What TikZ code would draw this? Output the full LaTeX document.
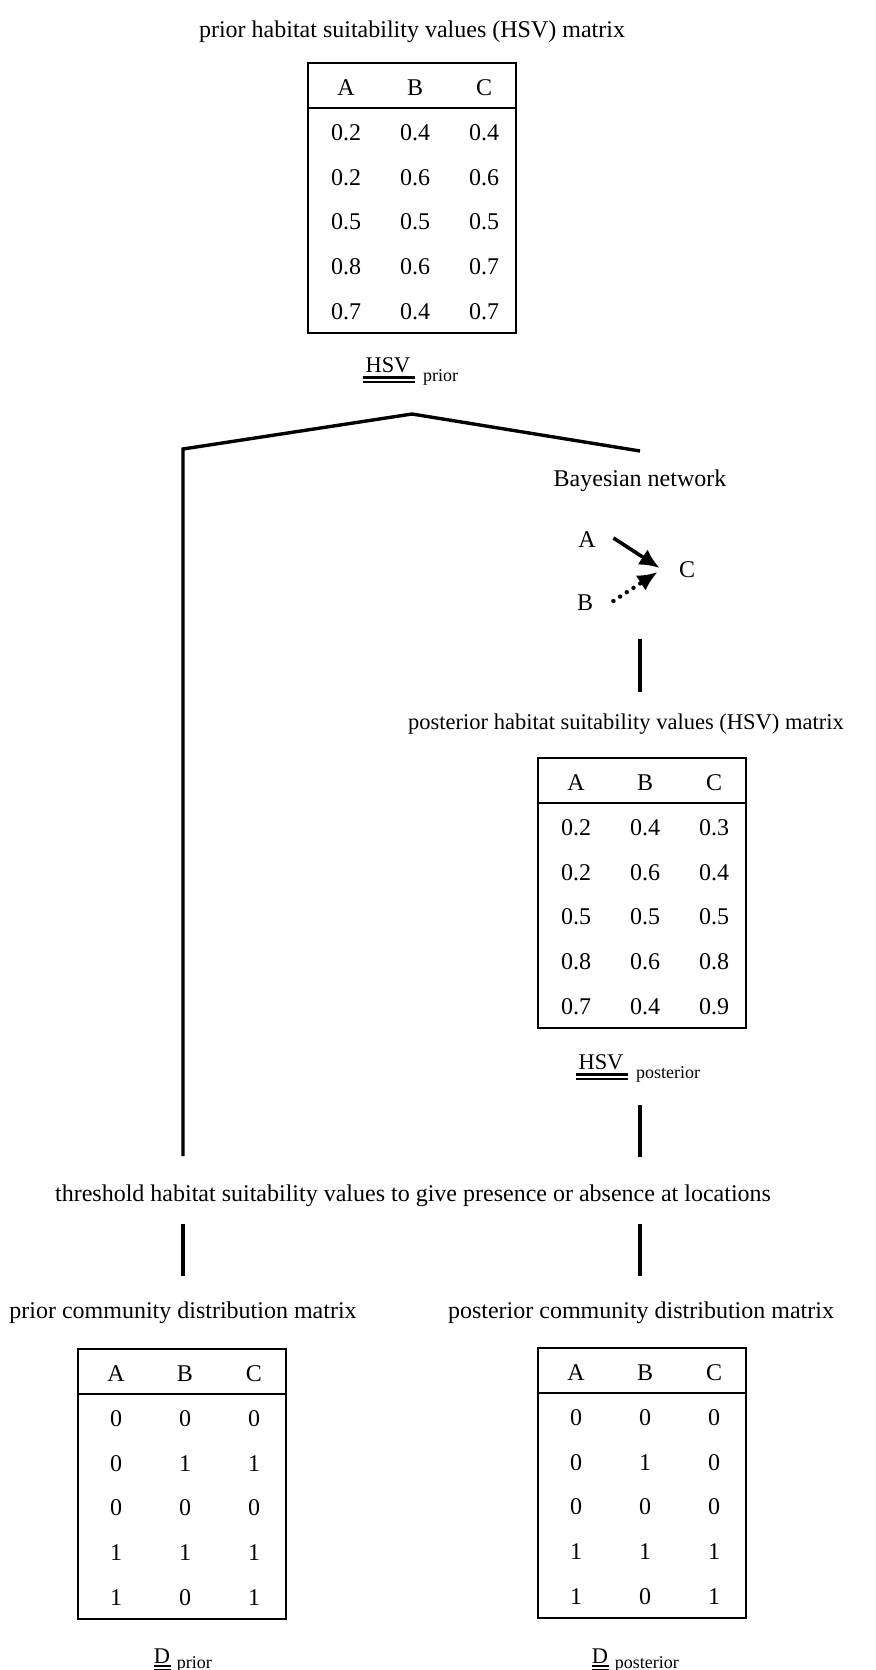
\documentclass[tikz,border=0pt]{standalone}
\usepackage{fontspec}
\setmainfont{Liberation Serif}
\usetikzlibrary{calc}
\usetikzlibrary{arrows.meta}

\newcommand{\suitmatrix}[4]{%
	\node[matbox] (#1) at (#2,#3) {};
	\draw[headrule] ($(#1.north west)+(0,45)$) -- ($(#1.north east)+(0,45)$);
	\foreach[count=\i] \h in {A,B,C}{
		\node[cell] at ($(#1.north west)+({69*\i-31},24.5)$) {\h};
	}
	\foreach[count=\j] \a/\b/\c in {#4}{
		\node[cell] at ($(#1.north west)+(38,{24.8+44.7*\j})$) {\a};
		\node[cell] at ($(#1.north west)+(107,{24.8+44.7*\j})$) {\b};
		\node[cell] at ($(#1.north west)+(176,{24.8+44.7*\j})$) {\c};
	}
}

\begin{document}
\begin{tikzpicture}[x=0.5pt, y=-0.5pt, font=\fontsize{12}{14}\selectfont,
		flow/.style={line width=1.7pt},
		causal/.style={line width=1.8pt, -{Latex[length=10pt,width=9pt]}},
		weak/.style={causal, line width=2.2pt, line cap=round, dash pattern=on 0pt off 4pt},
		matbox/.style={draw, line width=1.3pt, minimum width=104pt, minimum height=135pt, inner sep=0pt, outer sep=0pt, anchor=north west},
		headrule/.style={line width=1.2pt},
		cell/.style={inner sep=0pt},
		lbl/.style={inner sep=0pt, anchor=base},
		matname/.style={lbl, font=\fontsize{11.2}{13}\selectfont},
		sub/.style={font=\fontsize{9}{11}\selectfont, inner sep=0pt, anchor=base west},
		dblrule/.style={double, line width=1.1pt, double distance=1pt}]
	\useasboundingbox (0,0) rectangle (875,1670);

	\node[lbl] (priortitle) at (412,37) {prior habitat suitability values (HSV) matrix};
	\suitmatrix{hsvprior}{308}{63}{0.2/0.4/0.4, 0.2/0.6/0.6, 0.5/0.5/0.5, 0.8/0.6/0.7, 0.7/0.4/0.7}
	\node[matname] (hsvpriorname) at (388,372) {HSV};
	\node[sub] at ([xshift=6pt,yshift=-4.5pt]hsvpriorname.base east) {prior};
	\draw[dblrule] ([xshift=-1pt,yshift=-3.8pt]hsvpriorname.base west) -- ([xshift=2pt,yshift=-3.8pt]hsvpriorname.base east);

	\coordinate (split) at (412,414);
	\coordinate (lturn) at (183,449);
	\coordinate (lfoot) at (183,1156);
	\coordinate (rtop) at (640,451);
	\draw[flow] (rtop) -- (split) -- (lturn) -- (lfoot);

	\node[lbl] (bntitle) at (640,486) {Bayesian network};
	\node[cell] (bnA) at (587,540) {A};
	\node[cell] (bnB) at (585,603) {B};
	\node[cell] (bnC) at (687,570) {C};
	\draw[causal] ([xshift=8.7pt,yshift=1pt]bnA.east) -- ([xshift=-9.5pt,yshift=1pt]bnC.west);
	\draw[weak] ([xshift=10pt,yshift=1pt]bnB.east) -- ([xshift=-10.5pt,yshift=-1pt]bnC.west);

	\coordinate (bnfoot) at (640,639);
	\coordinate (posthead) at (640,692);
	\draw[flow] (bnfoot) -- (posthead);

	\node[lbl, font=\fontsize{11.25}{13}\selectfont] (posttitle) at (626,729) {posterior habitat suitability values (HSV) matrix};
	\suitmatrix{hsvpost}{538}{758}{0.2/0.4/0.3, 0.2/0.6/0.4, 0.5/0.5/0.5, 0.8/0.6/0.8, 0.7/0.4/0.9}
	\node[matname] (hsvpostname) at (601,1069) {HSV};
	\node[sub] at ([xshift=6pt,yshift=-4.5pt]hsvpostname.base east) {posterior};
	\draw[dblrule] ([xshift=-1pt,yshift=-3.8pt]hsvpostname.base west) -- ([xshift=2pt,yshift=-3.8pt]hsvpostname.base east);

	\coordinate (hsvfoot) at (640,1105);
	\coordinate (rfoot) at (640,1157);
	\draw[flow] (hsvfoot) -- (rfoot);

	\node[lbl] (thresh) at (413,1201) {threshold habitat suitability values to give presence or absence at locations};

	\coordinate (lcut) at (183,1224);
	\coordinate (lcommunity) at (183,1276);
	\coordinate (rcut) at (640,1224);
	\coordinate (rcommunity) at (640,1276);
	\draw[flow] (lcut) -- (lcommunity);
	\draw[flow] (rcut) -- (rcommunity);

	\node[lbl] (dpriortitle) at (183,1318) {prior community distribution matrix};
	\node[lbl] (dposttitle) at (641,1318) {posterior community distribution matrix};
	\suitmatrix{dprior}{78}{1349}{0/0/0, 0/1/1, 0/0/0, 1/1/1, 1/0/1}
	\suitmatrix{dpost}{538}{1348}{0/0/0, 0/1/0, 0/0/0, 1/1/1, 1/0/1}

	\node[matname] (dpriorname) at (162,1663) {D};
	\node[sub] at ([xshift=3pt,yshift=-2.5pt]dpriorname.base east) {prior};
	\draw[dblrule] ([yshift=-2.6pt]dpriorname.base west) -- ([xshift=0.5pt,yshift=-2.6pt]dpriorname.base east);
	\node[matname] (dpostname) at (600,1663) {D};
	\node[sub] at ([xshift=3pt,yshift=-2.5pt]dpostname.base east) {posterior};
	\draw[dblrule] ([yshift=-2.6pt]dpostname.base west) -- ([xshift=0.5pt,yshift=-2.6pt]dpostname.base east);
\end{tikzpicture}
\end{document}
